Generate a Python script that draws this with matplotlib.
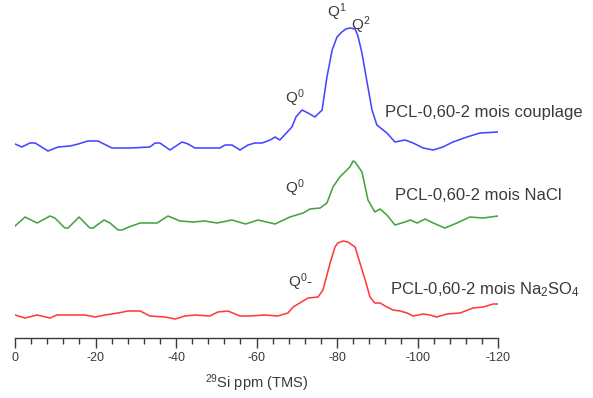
"""29Si NMR spectra of PCL-0,60-2 after 2 months (couplage / NaCl / Na2SO4)."""
import matplotlib
matplotlib.use("Agg")
import matplotlib.pyplot as plt
from matplotlib.ticker import MultipleLocator

INK = "#3a3a3a"
BLUE = "#4646ff"
GREEN = "#44a344"
RED = "#ff3c3c"

plt.rcParams.update({
    "font.family": ["Liberation Sans", "DejaVu Sans"],
    "mathtext.fontset": "custom",
    "mathtext.rm": "Liberation Sans",
    "mathtext.it": "Liberation Sans:italic",
    "axes.unicode_minus": False,
    "text.color": INK,
})

# chemical shift (ppm) and stacked intensity (arbitrary units, offset included)
ppm_couplage = [0, -1.7, -3.7, -5.0, -8.2, -10.7, -13.7, -15.7, -18.1, -20.6, -24.1,
                -28.6, -33.5, -34.8, -36.0, -38.5, -41.5, -43.0, -44.7, -47.2, -50.9,
                -52.2, -53.9, -55.9, -57.9, -59.6, -61.4, -63.4, -64.6, -65.8, -68.8,
                -69.8, -71.3, -72.8, -74.5, -76.3, -77.5, -78.8, -80.0, -81.2, -82.2,
                -83.2, -84.5, -85.2, -86.2, -87.5, -88.7, -89.9, -92.4, -94.4, -96.9,
                -98.9, -101.4, -103.9, -106.3, -108.8, -112.3, -115.5, -120.0]
int_couplage = [194, 191, 195, 195, 187, 191, 192, 194, 197, 197, 190,
                190, 191, 195, 195, 188, 196, 194, 190, 190, 190,
                193, 193, 188, 193, 195, 195, 198, 201, 198, 211,
                221, 228, 225, 221, 228, 261, 288, 301, 306, 309,
                310, 309, 302, 285, 255, 228, 213, 205, 196, 198,
                195, 190, 188, 191, 196, 201, 205, 206]

ppm_nacl = [0, -2.5, -5.5, -8.7, -9.9, -12.4, -13.2, -15.9, -18.6, -19.4, -22.1,
            -23.6, -25.6, -26.6, -28.3, -31.1, -35.3, -38.0, -41.0, -44.2, -47.2,
            -50.2, -53.9, -57.3, -60.4, -64.6, -68.3, -71.6, -73.3, -75.8, -77.5,
            -79.0, -80.7, -83.2, -84.0, -84.5, -86.2, -87.7, -89.4, -90.7, -92.4,
            -94.4, -96.9, -98.2, -99.9, -101.9, -103.9, -106.8, -109.8, -113.0,
            -116.3, -120.0]
int_nacl = [112, 121, 115, 122, 120, 110, 110, 121, 110, 110, 118,
            115, 108, 108, 111, 115, 115, 122, 117, 116, 117,
            115, 118, 114, 118, 114, 121, 125, 129, 130, 135,
            151, 161, 171, 177, 176, 166, 138, 126, 129, 123,
            113, 116, 118, 115, 119, 115, 110, 115, 121,
            120, 122]

ppm_na2so4 = [0, -2.5, -5.5, -8.7, -10.4, -17.4, -19.9, -22.4, -25.6, -28.1, -31.1,
              -33.5, -37.3, -39.8, -42.2, -44.7, -48.4, -50.4, -52.9, -55.9, -58.4,
              -62.1, -65.3, -67.8, -69.1, -72.8, -75.3, -76.5, -78.3, -79.5, -80.2,
              -81.5, -82.7, -84.5, -85.7, -87.0, -88.2, -89.4, -90.7, -92.4, -93.9,
              -95.7, -97.4, -98.9, -101.4, -103.1, -104.8, -107.3, -110.6, -113.8,
              -116.3, -118.8, -120.0]
int_na2so4 = [23, 20, 23, 20, 23, 23, 21, 23, 25, 27, 27,
              22, 21, 19, 22, 23, 22, 26, 27, 22, 22,
              23, 22, 25, 31, 40, 41, 48, 75, 91, 95,
              97, 96, 91, 75, 58, 41, 35, 35, 31, 28,
              27, 25, 22, 24, 23, 21, 24, 25, 30,
              31, 34, 34]

labels = ["PCL-0,60-2 mois couplage", "PCL-0,60-2 mois NaCl",
          r"PCL-0,60-2 mois Na$_{2}$SO$_{4}$"]


fig = plt.figure(figsize=(5.93, 3.98), dpi=100)
ax = fig.add_axes([15 / 593, 60 / 398, 483 / 593, 338 / 398])

ax.plot(ppm_couplage, int_couplage, color=BLUE, lw=1.15)
ax.plot(ppm_nacl, int_nacl, color=GREEN, lw=1.15)
ax.plot(ppm_na2so4, int_na2so4, color=RED, lw=1.15)

ax.set_xlim(0, -120)
ax.set_ylim(0, 338)
for side in ("left", "right", "top"):
    ax.spines[side].set_visible(False)
ax.spines["bottom"].set_color(INK)
ax.spines["bottom"].set_linewidth(1.0)
ax.set_yticks([])
ax.xaxis.set_major_locator(MultipleLocator(20))
ax.xaxis.set_minor_locator(MultipleLocator(4))
ax.tick_params(axis="x", which="major", length=7, width=1.0, color=INK,
               labelsize=9, labelcolor=INK, pad=3)
ax.tick_params(axis="x", which="minor", length=4, width=1.0, color=INK)
ax.set_xlabel(r"$^{29}$Si ppm (TMS)", fontsize=10.5, color=INK, labelpad=6)

# spectrum labels
ax.text(-91.9, 226, labels[0], fontsize=12, va="center", ha="left")
ax.text(-94.4, 143, labels[1], fontsize=12, va="center", ha="left")
ax.text(-93.2, 48, labels[2], fontsize=12, va="center", ha="left")

# Q^n assignments
qkw = dict(fontsize=11, va="center", ha="center")
ax.text(-69.4, 240, r"Q$^{0}$", **qkw)
ax.text(-80.0, 326, r"Q$^{1}$", **qkw)
ax.text(-85.9, 313, r"Q$^{2}$", **qkw)
ax.text(-69.4, 150, r"Q$^{0}$", **qkw)
ax.text(-71.0, 56, r"Q$^{0}$-", **qkw)

fig.savefig("out.png", dpi=100)
